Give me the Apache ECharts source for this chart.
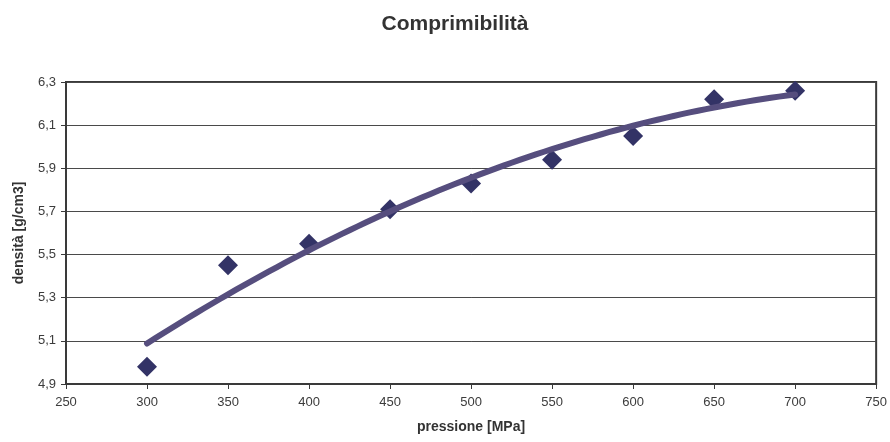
<!DOCTYPE html>
<html>
<head>
<meta charset="utf-8">
<script src="https://cdn.jsdelivr.net/npm/echarts@6/dist/echarts.min.js"></script>
<style>
  html, body { margin: 0; padding: 0; background: #ffffff; }
  #chart { width: 890px; height: 442px; }
</style>
</head>
<body>
<div id="chart"></div>
<script>
// Pressure (MPa) and measured density (g/cm3)
const pressure = [300, 350, 400, 450, 500, 550, 600, 650, 700];
const density = [4.98, 5.45, 5.55, 5.71, 5.83, 5.94, 6.05, 6.22, 6.26];

// Second-order polynomial least-squares trend of density vs pressure
function quadFit(xs, ys) {
  const n = xs.length;
  let s = [0, 0, 0, 0, 0], t = [0, 0, 0];
  for (let i = 0; i < n; i++) {
    const x = xs[i], y = ys[i];
    let p = 1;
    for (let k = 0; k < 5; k++) { s[k] += p; if (k < 3) t[k] += p * y; p *= x; }
  }
  // Solve 3x3 normal equations
  const A = [
    [s[0], s[1], s[2], t[0]],
    [s[1], s[2], s[3], t[1]],
    [s[2], s[3], s[4], t[2]]
  ];
  for (let c = 0; c < 3; c++) {
    let piv = c;
    for (let r = c + 1; r < 3; r++) if (Math.abs(A[r][c]) > Math.abs(A[piv][c])) piv = r;
    [A[c], A[piv]] = [A[piv], A[c]];
    for (let r = 0; r < 3; r++) {
      if (r === c) continue;
      const f = A[r][c] / A[c][c];
      for (let k = c; k < 4; k++) A[r][k] -= f * A[c][k];
    }
  }
  return [A[0][3] / A[0][0], A[1][3] / A[1][1], A[2][3] / A[2][2]];
}

const coef = quadFit(pressure, density);
const xStart = pressure[0], xEnd = pressure[pressure.length - 1];
const trend = [];
for (let x = xStart; x <= xEnd; x += 5) {
  trend.push([x, coef[0] + coef[1] * x + coef[2] * x * x]);
}

const points = pressure.map((p, i) => [p, density[i]]);

const chart = echarts.init(document.getElementById('chart'), null, { renderer: 'canvas' });
const labelFont = 'Liberation Sans, Arial, sans-serif';

chart.setOption({
  animation: false,
  backgroundColor: '#ffffff',
  title: {
    text: 'Comprimibilità',
    left: 450,
    textAlign: 'center',
    top: 9,
    textStyle: { fontFamily: labelFont, fontSize: 21, fontWeight: 'bold', color: '#333333' }
  },
  grid: {
    left: 66, right: 11, top: 82, bottom: 58,
    show: true, borderColor: '#3a3a3a', borderWidth: 2, backgroundColor: 'transparent'
  },
  xAxis: {
    type: 'value',
    min: 250, max: 750, interval: 50,
    name: 'pressione [MPa]',
    nameLocation: 'middle',
    nameGap: 36,
    nameTextStyle: { fontFamily: labelFont, fontSize: 14, fontWeight: 'bold', color: '#333333' },
    axisLine: { show: true, onZero: false, lineStyle: { color: '#3a3a3a', width: 2 } },
    axisTick: { show: true, length: 5, lineStyle: { color: '#3a3a3a', width: 1 } },
    axisLabel: { margin: 12, fontFamily: labelFont, fontSize: 13, color: '#3c3c3c' },
    splitLine: { show: false }
  },
  yAxis: {
    type: 'value',
    min: 4.9, max: 6.3, interval: 0.2,
    name: 'densità [g/cm3]',
    nameLocation: 'middle',
    nameRotate: 90,
    nameGap: 40,
    nameTextStyle: { fontFamily: labelFont, fontSize: 14, fontWeight: 'bold', color: '#333333' },
    axisLine: { show: true, onZero: false, lineStyle: { color: '#3a3a3a', width: 2 } },
    axisTick: { show: true, length: 5, lineStyle: { color: '#3a3a3a', width: 1 } },
    axisLabel: {
      margin: 10, fontFamily: labelFont, fontSize: 13, color: '#3c3c3c',
      formatter: v => v.toFixed(1).replace('.', ',')
    },
    splitLine: { show: true, lineStyle: { color: '#4a4a4a', width: 1 } }
  },
  series: [
    {
      name: 'densità',
      type: 'scatter',
      data: points,
      symbol: 'diamond',
      symbolSize: 20,
      itemStyle: { color: '#333366', opacity: 1 },
      z: 2
    },
    {
      name: 'tendenza',
      type: 'line',
      data: trend,
      showSymbol: false,
      smooth: false,
      lineStyle: { color: '#564e7e', width: 6, cap: 'round', join: 'round' },
      z: 3
    }
  ]
});
</script>
</body>
</html>
